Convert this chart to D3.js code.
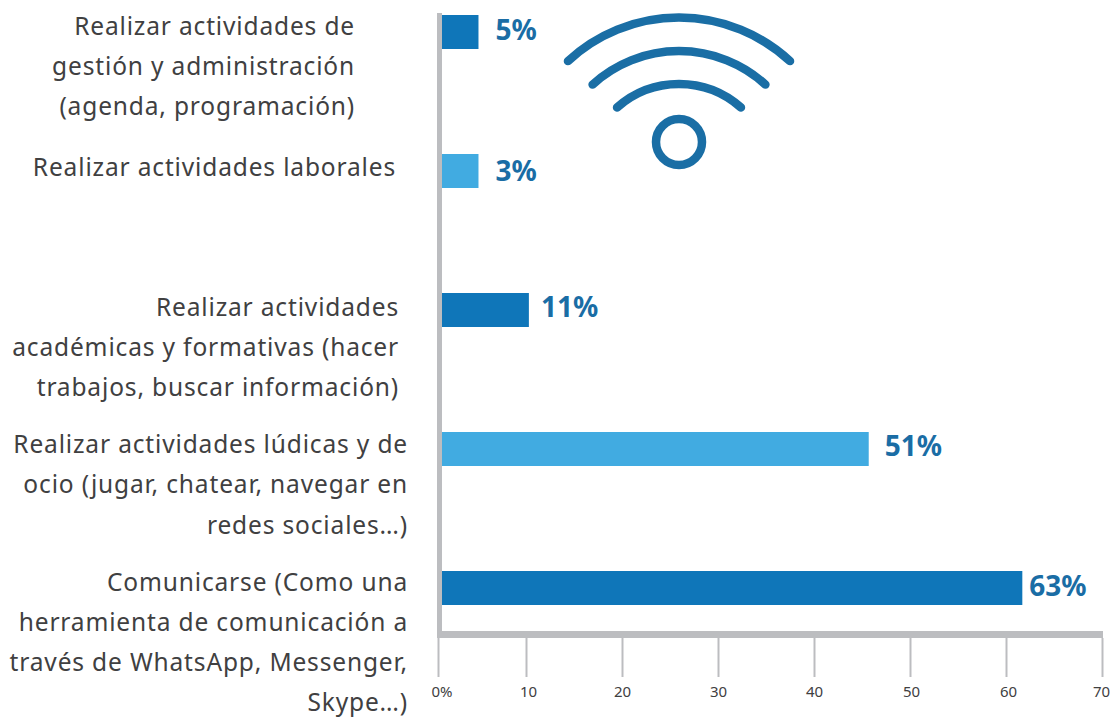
<!DOCTYPE html>
<html><head><meta charset="utf-8">
<script src="https://cdn.jsdelivr.net/npm/d3@7/dist/d3.min.js"></script>
<style>html,body{margin:0;background:#fff}svg{display:block}</style></head>
<body><svg id="c" width="1111" height="717"></svg>
<script>
const categories=["gestion","laborales","academicas","ludicas","comunicarse"];
const barValues=[4.6,4.6,10.3,45.7,61.7];
const valueLabels=["5%","3%","11%","51%","63%"];
const barColors=["#0f76b9","#41abe1","#0f76b9","#41abe1","#0f76b9"];
const categoryLines=[
 ["Realizar actividades de","gestión y administración","(agenda, programación)"],
 ["Realizar actividades laborales"],
 ["Realizar actividades","académicas y formativas (hacer","trabajos, buscar información)"],
 ["Realizar actividades lúdicas y de","ocio (jugar, chatear, navegar en","redes sociales…)"],
 ["Comunicarse (Como una","herramienta de comunicación a","través de WhatsApp, Messenger,","Skype…)"]];
const tickValues=[0,10,20,30,40,50,60,70];
const tickLabels=["0%","10","20","30","40","50","60","70"];

const svg=d3.select("#c");
const FONT="'Noto Sans',sans-serif";
const x=d3.scaleLinear().domain([0,10,70]).range([438,526,1102]);
const y=d3.scaleBand().domain(categories).range([-37.5,657.5]).paddingInner(105/139).paddingOuter(105/278);
const axisColor="#bcbdc0";

// bars
svg.append("g").selectAll("rect").data(categories).join("rect")
 .attr("x",442).attr("y",d=>y(d)).attr("height",y.bandwidth())
 .attr("width",(d,i)=>x(barValues[i])-442).attr("fill",(d,i)=>barColors[i]);

// axis
const axis=d3.axisBottom(x).tickValues(tickValues).tickFormat((d,i)=>tickLabels[i]).tickSize(39).tickSizeOuter(0).tickPadding(9);
const gx=svg.append("g").attr("transform","translate(0,638)").call(axis);
gx.select(".domain").remove();
gx.selectAll(".tick line").attr("stroke",axisColor).attr("stroke-width",2);
gx.selectAll(".tick text").attr("fill","#404041").style("font-family",FONT).style("font-size","15px")
 .attr("dx",(d,i)=>[3.5,2,0,0,0,1,2,-1][i]);
svg.append("rect").attr("x",437).attr("y",631).attr("width",666).attr("height",7).attr("fill",axisColor);
svg.append("rect").attr("x",437).attr("y",13).attr("width",5).attr("height",620).attr("fill",axisColor);

// category labels
const rightEdges=[355,396,399,408,408];
const firstBaselines=[35,175.5,316,453,591];
const lineSteps=[40,40,40,40.3,40];
svg.append("g").selectAll("text").data(categories).join("text")
 .attr("text-anchor","end").attr("fill","#404041").style("font-family",FONT).style("font-size","24.5px").style("letter-spacing","0.85px")
 .each(function(d,i){
   d3.select(this).selectAll("tspan").data(categoryLines[i]).join("tspan")
    .attr("x",rightEdges[i]).attr("y",(l,j)=>firstBaselines[i]+j*lineSteps[i]).text(l=>l);
 });

// value labels
const labelGaps=[17,17,12,16,7];
const labelDrops=[25,27,24,24,25];
svg.append("g").selectAll("text").data(categories).join("text")
 .attr("x",(d,i)=>x(barValues[i])+labelGaps[i]).attr("y",(d,i)=>y(d)+labelDrops[i])
 .attr("fill","#1a6da5").style("font-family",FONT).style("font-weight",700).style("font-size","28px")
 .text((d,i)=>valueLabels[i]);

// wifi icon
const icon=svg.append("g").attr("fill","none").attr("stroke","#1a6ea5").attr("stroke-width",8.5).attr("stroke-linecap","round");
icon.append("circle").attr("cx",679).attr("cy",142).attr("r",23);
[[163.4,181,42.8],[128.4,179.5,42.3],[93.5,177.5,41.5]].forEach(([r,cy,deg])=>{
  const a=deg*Math.PI/180, p=d3.path();
  p.arc(679,cy,r,-Math.PI/2-a,-Math.PI/2+a);
  icon.append("path").attr("d",p.toString());
});
</script></body></html>
